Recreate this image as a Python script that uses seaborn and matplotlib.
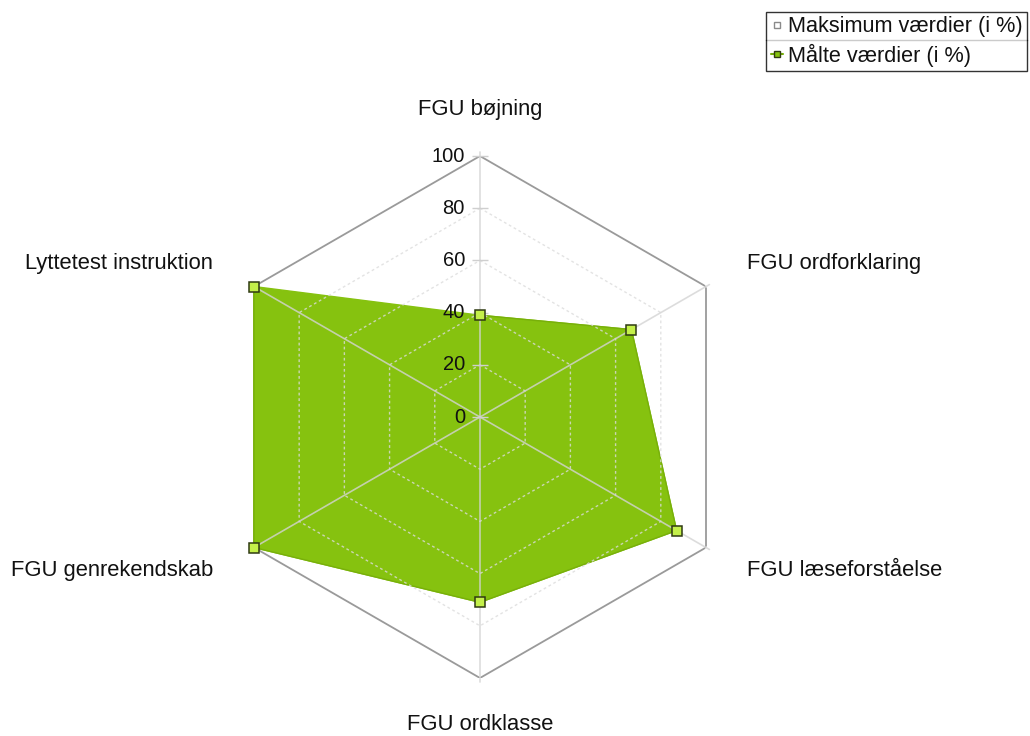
import numpy as np
import pandas as pd
import matplotlib
matplotlib.use('Agg')
import matplotlib.pyplot as plt
import matplotlib.transforms as mtransforms
from matplotlib.lines import Line2D
import seaborn as sns

# data
categories = ['FGU bøjning', 'FGU ordforklaring', 'FGU læseforståelse',
              'FGU ordklasse', 'FGU genrekendskab', 'Lyttetest instruktion']
measured = [39, 67, 87, 71, 100, 100]
maximum = [100, 100, 100, 100, 100, 100]
ring_levels = [20, 40, 60, 80]
tick_values = [0, 20, 40, 60, 80, 100]
legend_labels = ['Maksimum værdier (i %)', 'Målte værdier (i %)']

sns.set_theme(style='white')
plt.rcParams['font.family'] = ['Liberation Sans', 'DejaVu Sans']

n = len(categories)
theta = np.linspace(0, 2 * np.pi, n, endpoint=False)
theta_c = np.append(theta, theta[0])

fig = plt.figure(figsize=(10.3, 7.36), dpi=100)
ax = fig.add_axes([0.2126, 0.0788, 0.5068, 0.7092], projection='polar')
ax.set_theta_zero_location('N')
ax.set_theta_direction(-1)
ax.set_ylim(0, 100)
ax.grid(False)
ax.spines['polar'].set_visible(False)
ax.set_xticks([])
ax.set_yticks([])
ax.patch.set_alpha(0)

# maximum series: white area with grey outline (under the measured fill)
ax.fill(theta_c, np.append(maximum, maximum[0]), color='white', zorder=1)
ax.plot(theta_c, np.append(maximum, maximum[0]), color='#9a9a9a', lw=1.3, zorder=1.5)

# measured series
df = pd.DataFrame({'theta': theta_c, 'value': np.append(measured, measured[0])})
ax.fill(df['theta'], df['value'], color='#86c20f', zorder=2)
sns.lineplot(data=df, x='theta', y='value', sort=False, ax=ax, color='#78b00a',
             lw=1.0, zorder=3, legend=False)

# hexagonal rings + spokes, drawn above the fill (semi transparent)
for lvl in ring_levels:
    ax.plot(theta_c, [lvl] * (n + 1), color='#dcdcdc', lw=1.0, ls=(0, (2, 2)),
            alpha=0.8, zorder=3.5)
for t in theta:
    ax.plot([t, t], [0, 101.5], color='#d4d4d4', lw=1.2, alpha=0.8, zorder=3.5,
            clip_on=False)

# markers on top
ax.plot(theta, measured, ls='none', marker='s', markersize=7,
        markerfacecolor='#c4f04a', markeredgecolor='#2f3a12', markeredgewidth=1.1,
        zorder=6, clip_on=False)

# radial tick marks + labels on the top spoke
ax.plot([0] * len(tick_values), tick_values, ls='none', marker='_', markersize=12,
        color='#cfcfcf', zorder=3.6, clip_on=False)
lab_tr = mtransforms.offset_copy(ax.transData, fig=fig, x=-15, y=0, units='dots')
for v in tick_values:
    ax.text(0, v, str(v), transform=lab_tr, ha='right', va='center',
            fontsize=14.5, color='#111111', zorder=7)

# category labels
for t, name in zip(theta, categories):
    deg = np.degrees(t)
    if np.isclose(deg, 0) or np.isclose(deg, 180):
        ha = 'center'
    elif deg < 180:
        ha = 'left'
    else:
        ha = 'right'
    ax.text(t, 118, name, ha=ha, va='center', fontsize=15.8, color='#111111',
            clip_on=False)

# legend
handles = [
    Line2D([], [], color='white', lw=1.5, marker='s', markersize=5,
           markerfacecolor='white', markeredgecolor='#8a8a8a'),
    Line2D([], [], color='#74ad08', lw=1.5, marker='s', markersize=5,
           markerfacecolor='#86c20f', markeredgecolor='#2f3a12'),
]
leg = fig.legend(handles, legend_labels, loc='upper right',
                 bbox_to_anchor=(1027 / 1030, 1 - 12 / 736), frameon=True,
                 fancybox=False, edgecolor='black', borderpad=0.2,
                 handlelength=0.55, handletextpad=0.25, labelspacing=0.28,
                 borderaxespad=0, fontsize=15.6)
leg.get_frame().set_linewidth(1.0)
for txt in leg.get_texts():
    txt.set_color('#111111')

# separator between the two legend rows
fig.canvas.draw()
inv = fig.transFigure.inverted()
fb = leg.get_frame().get_window_extent()
t0 = leg.get_texts()[0].get_window_extent()
t1 = leg.get_texts()[1].get_window_extent()
ymid = (t0.y0 + t1.y1) / 2
(x0, y0), (x1, _) = inv.transform([[fb.x0, ymid], [fb.x1, ymid]])
fig.add_artist(Line2D([x0, x1], [y0, y0], color='black', lw=1.0,
                      transform=fig.transFigure))

fig.savefig('out.png', dpi=100, facecolor='white')
